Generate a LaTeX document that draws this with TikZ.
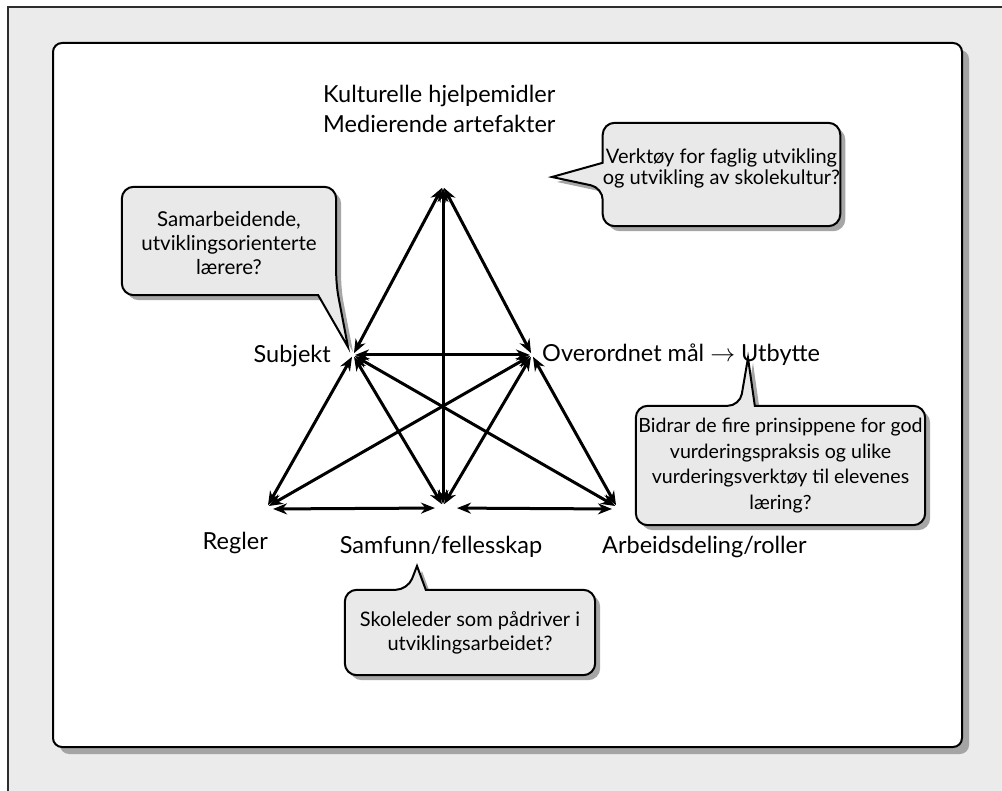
\documentclass[tikz,border=0pt]{standalone}
\usepackage{fontspec}
\setmainfont{Lato}
\usetikzlibrary{arrows.meta,shadows,backgrounds,calc}

\definecolor{papir}{RGB}{235, 235, 235}
\definecolor{graa}{RGB}{233, 233, 233}
\definecolor{ramme}{RGB}{45, 45, 45}

\tikzset{
  pil/.style={<->, >={Stealth[length=14pt, width=11pt]}, line width=3pt, shorten <=2pt, shorten >=2pt},
  etikett/.style={font=\fontsize{23.5}{30}\selectfont, inner sep=0pt},
  tekst/.style={font=\fontsize{20}{24}\selectfont, align=center, inner sep=0pt},
  boble/.style={fill=graa, draw=black, line width=2pt, rounded corners=12pt,
    drop shadow={shadow xshift=5pt, shadow yshift=-5pt, fill=black, opacity=0.35}},
}

\begin{document}
\begin{tikzpicture}[x=1pt, y=-1pt]
  \useasboundingbox (0, 0) rectangle (1002, 791);
  \clip (0, 0) rectangle (1002, 791);

  \coordinate (topp) at (443, 186);
  \coordinate (subj) at (353, 355);
  \coordinate (maal) at (532, 355);
  \coordinate (regl) at (267, 507);
  \coordinate (samf) at (443, 506);
  \coordinate (arb) at (617, 507);

  \foreach \a/\b in {topp/subj, topp/maal, topp/samf, subj/maal, subj/regl, subj/samf,
                     subj/arb, maal/regl, maal/samf, maal/arb} {
    \draw[pil] (\a) -- (\b);
  }
  \draw[pil, shorten <=6pt, shorten >=8pt] ([yshift=-2pt]regl) -- ([yshift=-2pt]samf);
  \draw[pil, shorten <=14pt, shorten >=5pt] ([yshift=-2pt]samf) -- ([yshift=-2pt]arb);

  \node[etikett, anchor=base west, align=left] (artefakter) at (323, 133)
    {Kulturelle hjelpemidler\\Medierende artefakter};
  \node[etikett, anchor=base east] (subjekt) at (331, 363) {Subjekt};
  \node[etikett, anchor=base west] (overordnet) at (542, 362) {Overordnet mål $\rightarrow$ Utbytte};
  \node[etikett, anchor=base east] (regler) at (268, 550) {Regler};
  \node[etikett, anchor=base] (samfunn) at (441, 553) {Samfunn/fellesskap};
  \node[etikett, anchor=base west] (arbeid) at (602, 553) {Arbeidsdeling/roller};

  \node[tekst, font=\fontsize{20.5}{24}\selectfont, minimum width=214pt, minimum height=108pt]
    (samarb) at (229, 243) {Samarbeidende,\\utviklingsorienterte\\lærere?};
  \node[tekst, font=\fontsize{20}{21}\selectfont, minimum width=237pt, minimum height=103pt]
    (verktoy) at (721.5, 168.5) {Verktøy for faglig utvikling\\og utvikling av skolekultur?};
  \node[tekst, font=\fontsize{19.6}{25.5}\selectfont, minimum width=289pt, minimum height=119pt]
    (bidrar) at (780.5, 465.5)
    {Bidrar de fire prinsippene for god\\vurderingspraksis og ulike\\vurderingsverktøy til elevenes\\læring?};
  \node[tekst, minimum width=250pt, minimum height=85pt] (skole) at (470, 632.5)
    {Skoleleder som pådriver i\\utviklingsarbeidet?};

  \coordinate (samarb-spiss) at (348, 347);
  \coordinate (verktoy-spiss) at (552, 177);
  \coordinate (bidrar-spiss) at (748, 358);
  \coordinate (skole-spiss) at (417, 566);

  \begin{scope}[on background layer]
    \fill[white] (0, 0) rectangle (1002, 791);
    \draw[ramme, line width=2pt, fill=papir] (8, 7) rectangle (1020, 810);
    \draw[line width=2pt, fill=white, rounded corners=9pt,
      drop shadow={shadow xshift=7pt, shadow yshift=-7pt, fill=black, opacity=0.3}]
      (53, 43) rectangle (962, 747);
    \draw[boble] ($(samarb.north west)+(0, -2)$) -- ($(samarb.north east)+(0, -2)$)
      -- ($(samarb.south east)+(0, -12)$)
      [sharp corners] -- (samarb-spiss) -- ($(samarb.south east)+(-18, -2)$)
      [rounded corners=12pt] -- ($(samarb.south west)+(0, -2)$) -- cycle;
    \draw[boble] ($(verktoy.north west)+(0, 6)$) -- ($(verktoy.north east)+(0, 6)$)
      -- ($(verktoy.south east)+(0, 6)$) -- ($(verktoy.south west)+(0, 6)$)
      -- ($(verktoy.north west)+(0, 71)$)
      [sharp corners] -- (verktoy-spiss) -- ($(verktoy.north west)+(0, 46)$)
      [rounded corners=12pt] -- cycle;
    \draw[boble] (bidrar.north west) -- ($(bidrar.north west)+(104, 0)$)
      [sharp corners] -- (bidrar-spiss) -- ($(bidrar.north west)+(119, 0)$)
      [rounded corners=12pt] -- (bidrar.north east) -- (bidrar.south east)
      -- (bidrar.south west) -- cycle;
    \draw[boble] (skole.north west) -- ($(skole.north west)+(63, 0)$)
      [sharp corners] -- (skole-spiss) -- ($(skole.north west)+(81, 0)$)
      [rounded corners=12pt] -- (skole.north east) -- (skole.south east)
      -- (skole.south west) -- cycle;
  \end{scope}
\end{tikzpicture}
\end{document}
